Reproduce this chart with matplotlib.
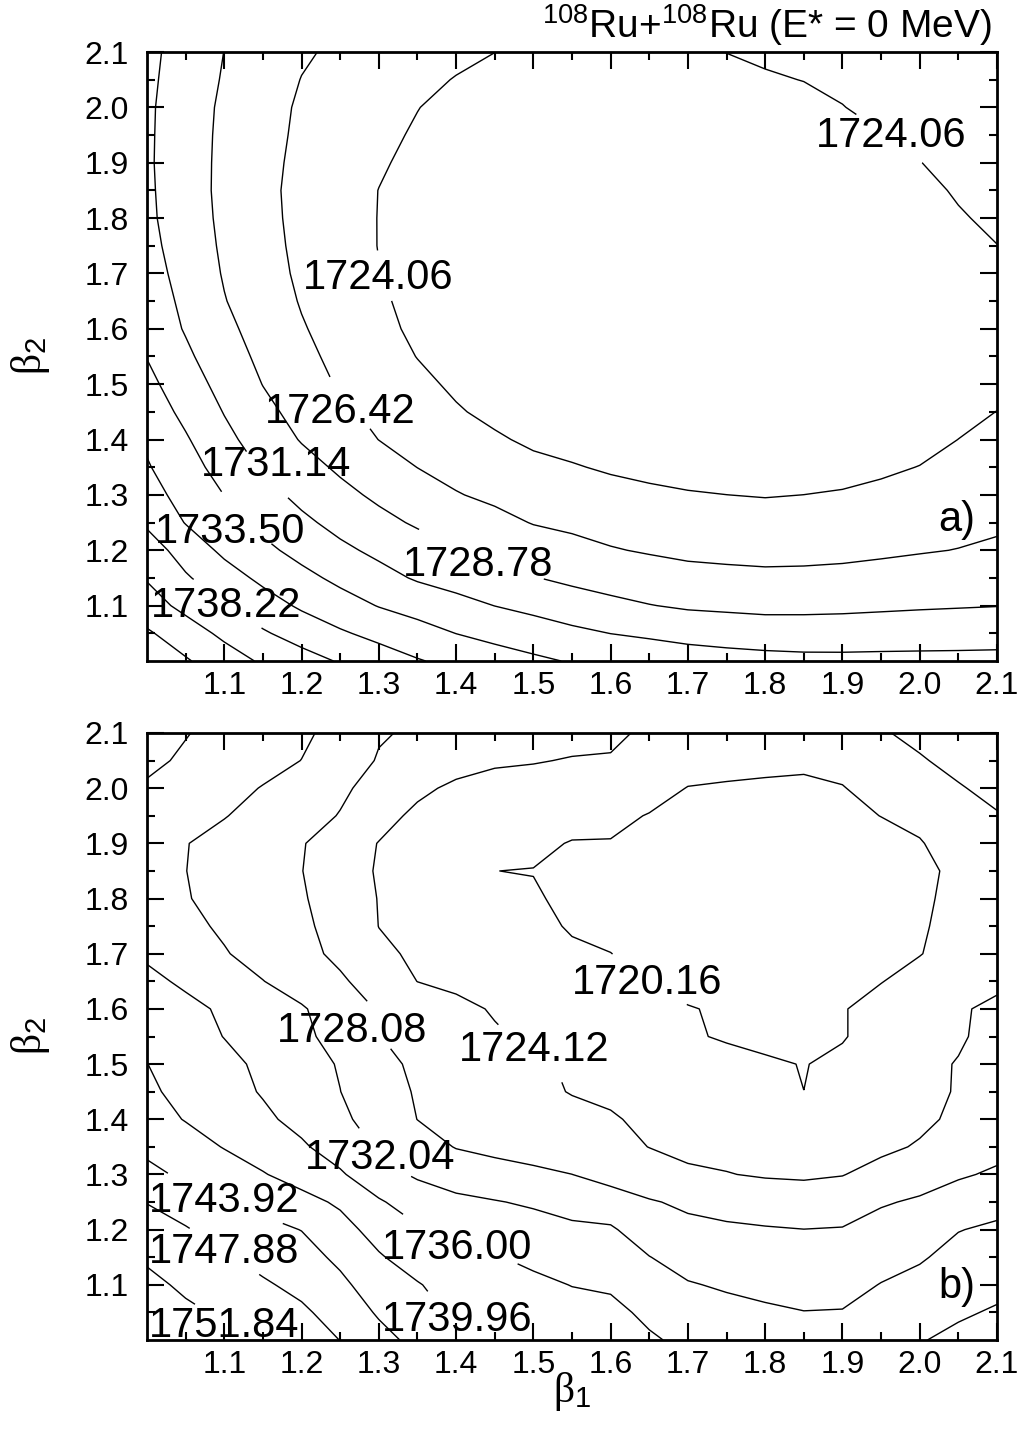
import numpy as np
import matplotlib.pyplot as plt
from matplotlib.ticker import FixedLocator, FormatStrFormatter

plt.rcParams['font.family'] = ['Liberation Sans', 'DejaVu Sans']
plt.rcParams['mathtext.fontset'] = 'custom'
plt.rcParams['mathtext.rm'] = 'Liberation Sans'
plt.rcParams['mathtext.it'] = 'Liberation Serif'
plt.rcParams['mathtext.bf'] = 'Liberation Sans:bold'

#%% deformation grid, step 0.05
beta = np.linspace(1.0, 2.1, 23)

# contour levels (MeV)
levels_a = [1724.06, 1726.42, 1728.78, 1731.14, 1733.50, 1735.86, 1738.22, 1740.58, 1742.94]
levels_b = [1720.16, 1724.12, 1728.08, 1732.04, 1736.00, 1739.96, 1743.92, 1747.88, 1751.84]

# energy in units of the contour step above the first level
# rows: beta_2 = 1.0 ... 2.1, columns: beta_1 = 1.0 ... 2.1
steps_a = [
    [8.74, 8.10, 7.46, 6.87, 6.38, 5.92, 5.49, 5.07, 4.74, 4.45, 4.18, 3.93, 3.77, 3.65, 3.50, 3.39, 3.31, 3.25, 3.24, 3.25, 3.25, 3.25, 3.26],
    [8.13, 7.47, 6.79, 6.11, 5.60, 5.12, 4.72, 4.36, 3.99, 3.71, 3.46, 3.21, 2.99, 2.84, 2.67, 2.57, 2.49, 2.47, 2.48, 2.52, 2.56, 2.59, 2.62],
    [7.42, 6.74, 6.05, 5.43, 4.86, 4.40, 3.96, 3.64, 3.30, 2.99, 2.75, 2.47, 2.23, 2.03, 1.88, 1.82, 1.76, 1.77, 1.80, 1.85, 1.90, 1.94, 1.98],
    [6.93, 6.11, 5.42, 4.79, 4.27, 3.78, 3.32, 2.90, 2.64, 2.38, 2.04, 1.80, 1.61, 1.45, 1.29, 1.23, 1.18, 1.19, 1.23, 1.31, 1.40, 1.48, 1.56],
    [6.48, 5.59, 4.80, 4.23, 3.70, 3.20, 2.79, 2.43, 2.06, 1.79, 1.49, 1.27, 1.06, 0.92, 0.81, 0.76, 0.73, 0.75, 0.79, 0.86, 0.94, 1.02, 1.14],
    [5.85, 4.96, 4.34, 3.75, 3.20, 2.71, 2.27, 1.88, 1.55, 1.26, 0.96, 0.82, 0.66, 0.54, 0.44, 0.38, 0.35, 0.37, 0.43, 0.52, 0.63, 0.76, 0.86],
    [5.36, 4.67, 3.99, 3.33, 2.75, 2.26, 1.82, 1.45, 1.05, 0.82, 0.59, 0.44, 0.28, 0.16, 0.06, 0.003, -0.04, 0.003, 0.07, 0.19, 0.33, 0.49, 0.64],
    [5.08, 4.38, 3.63, 2.89, 2.35, 1.85, 1.42, 0.99, 0.73, 0.46, 0.22, 0.06, -0.10, -0.22, -0.30, -0.35, -0.38, -0.35, -0.28, -0.14, 0.02, 0.25, 0.43],
    [4.85, 4.10, 3.25, 2.56, 1.94, 1.47, 0.99, 0.70, 0.39, 0.11, -0.15, -0.28, -0.40, -0.50, -0.55, -0.57, -0.58, -0.56, -0.50, -0.40, -0.27, 0.005, 0.22],
    [4.56, 3.76, 2.96, 2.25, 1.68, 1.18, 0.78, 0.44, 0.08, -0.20, -0.36, -0.45, -0.55, -0.60, -0.63, -0.65, -0.66, -0.64, -0.60, -0.52, -0.40, -0.22, 0.01],
    [4.26, 3.45, 2.69, 1.98, 1.42, 0.91, 0.56, 0.20, -0.14, -0.33, -0.46, -0.55, -0.61, -0.65, -0.67, -0.68, -0.67, -0.65, -0.61, -0.56, -0.49, -0.40, -0.20],
    [3.97, 3.17, 2.44, 1.79, 1.22, 0.77, 0.38, -0.02, -0.28, -0.45, -0.56, -0.64, -0.69, -0.72, -0.73, -0.73, -0.72, -0.69, -0.65, -0.59, -0.52, -0.44, -0.35],
    [3.63, 2.93, 2.23, 1.62, 1.07, 0.64, 0.23, -0.17, -0.38, -0.52, -0.62, -0.69, -0.73, -0.75, -0.76, -0.76, -0.74, -0.71, -0.66, -0.60, -0.52, -0.43, -0.32],
    [3.54, 2.79, 2.04, 1.48, 0.94, 0.52, 0.10, -0.20, -0.42, -0.56, -0.66, -0.72, -0.76, -0.78, -0.78, -0.78, -0.76, -0.72, -0.67, -0.60, -0.50, -0.40, -0.25],
    [3.40, 2.66, 1.93, 1.36, 0.85, 0.44, 0.02, -0.27, -0.47, -0.60, -0.69, -0.75, -0.79, -0.80, -0.80, -0.80, -0.78, -0.74, -0.68, -0.60, -0.47, -0.33, -0.18],
    [3.28, 2.55, 1.86, 1.29, 0.80, 0.39, -0.02, -0.30, -0.50, -0.63, -0.72, -0.78, -0.81, -0.82, -0.82, -0.81, -0.79, -0.74, -0.66, -0.55, -0.40, -0.22, -0.01],
    [3.19, 2.47, 1.81, 1.24, 0.77, 0.37, -0.02, -0.30, -0.50, -0.62, -0.72, -0.78, -0.81, -0.82, -0.82, -0.82, -0.79, -0.73, -0.63, -0.50, -0.32, -0.07, 0.15],
    [3.16, 2.43, 1.78, 1.21, 0.76, 0.38, -0.01, -0.28, -0.47, -0.60, -0.70, -0.76, -0.80, -0.81, -0.81, -0.80, -0.75, -0.67, -0.55, -0.40, -0.20, 0.08, 0.22],
    [3.13, 2.43, 1.79, 1.24, 0.80, 0.44, 0.09, -0.20, -0.42, -0.55, -0.65, -0.71, -0.75, -0.76, -0.76, -0.74, -0.68, -0.60, -0.45, -0.25, -0.01, 0.15, 0.30],
    [3.14, 2.44, 1.81, 1.28, 0.85, 0.53, 0.21, -0.10, -0.33, -0.47, -0.56, -0.63, -0.66, -0.68, -0.68, -0.66, -0.60, -0.50, -0.30, -0.03, 0.20, 0.38, 0.50],
    [3.15, 2.47, 1.84, 1.32, 0.89, 0.60, 0.31, 0.02, -0.25, -0.37, -0.45, -0.52, -0.55, -0.56, -0.55, -0.50, -0.45, -0.27, -0.02, 0.20, 0.38, 0.52, 0.65],
    [3.19, 2.55, 1.92, 1.44, 0.98, 0.73, 0.47, 0.22, -0.04, -0.22, -0.33, -0.40, -0.44, -0.43, -0.36, -0.22, -0.10, 0.02, 0.15, 0.30, 0.46, 0.58, 0.70],
    [3.23, 2.62, 1.99, 1.55, 1.11, 0.84, 0.63, 0.42, 0.21, 0.005, -0.18, -0.28, -0.33, -0.30, -0.17, 0.01, 0.16, 0.30, 0.42, 0.53, 0.62, 0.73, 0.85],
]

steps_b = [
    [8.90, 8.50, 8.05, 7.71, 7.36, 6.99, 6.32, 5.73, 5.21, 4.88, 4.69, 4.49, 4.29, 4.10, 3.82, 3.61, 3.49, 3.36, 3.39, 3.74, 3.95, 4.20, 4.40],
    [8.70, 8.20, 7.85, 7.57, 7.16, 6.61, 5.89, 5.29, 4.87, 4.68, 4.47, 4.28, 4.21, 3.83, 3.45, 3.26, 3.13, 3.02, 3.04, 3.39, 3.60, 3.89, 4.09],
    [8.28, 7.81, 7.47, 7.12, 6.75, 6.21, 5.50, 5.07, 4.55, 4.36, 4.18, 3.98, 3.89, 3.42, 3.06, 2.90, 2.77, 2.67, 2.71, 3.03, 3.26, 3.59, 3.78],
    [7.85, 7.44, 7.10, 6.70, 6.37, 5.80, 5.10, 4.52, 4.26, 4.05, 3.82, 3.58, 3.50, 3.02, 2.66, 2.52, 2.42, 2.34, 2.38, 2.67, 2.91, 3.28, 3.46],
    [7.41, 7.07, 6.62, 6.27, 5.98, 5.36, 4.62, 4.11, 3.82, 3.56, 3.37, 3.18, 3.10, 2.56, 2.27, 2.15, 2.07, 2.01, 2.05, 2.31, 2.51, 2.97, 3.15],
    [6.97, 6.57, 6.15, 5.73, 5.32, 4.85, 4.11, 3.51, 3.21, 3.05, 2.88, 2.64, 2.53, 2.09, 1.81, 1.64, 1.53, 1.45, 1.52, 1.92, 2.11, 2.41, 2.70],
    [6.23, 5.84, 5.45, 5.06, 4.60, 4.12, 3.34, 2.88, 2.56, 2.36, 2.21, 2.005, 1.60, 1.30, 1.10, 1.03, 0.92, 0.88, 0.97, 1.30, 1.62, 1.90, 2.12],
    [5.80, 5.37, 4.96, 4.55, 4.13, 3.54, 2.90, 2.40, 1.96, 1.77, 1.57, 1.38, 1.19, 0.99, 0.85, 0.76, 0.70, 0.68, 0.70, 0.82, 1.08, 1.45, 1.75],
    [5.35, 4.96, 4.57, 4.18, 3.72, 3.19, 2.60, 1.99, 1.80, 1.61, 1.42, 1.25, 1.10, 0.78, 0.64, 0.55, 0.48, 0.44, 0.48, 0.58, 0.82, 1.17, 1.50],
    [5.15, 4.75, 4.35, 3.93, 3.47, 3.01, 2.40, 1.92, 1.68, 1.44, 1.20, 0.96, 0.80, 0.62, 0.46, 0.32, 0.20, 0.002, 0.28, 0.50, 0.72, 1.07, 1.35],
    [5.01, 4.63, 4.23, 3.83, 3.39, 2.93, 2.25, 1.84, 1.60, 1.35, 1.11, 0.91, 0.76, 0.60, 0.44, 0.29, 0.13, -0.033, 0.20, 0.45, 0.75, 1.05, 1.35],
    [4.76, 4.37, 3.98, 3.59, 3.20, 2.67, 2.02, 1.70, 1.40, 1.09, 0.86, 0.67, 0.48, 0.29, 0.10, -0.09, -0.25, -0.28, -0.065, 0.40, 0.68, 0.88, 1.34],
    [4.63, 4.25, 3.86, 3.48, 3.09, 2.51, 1.93, 1.57, 1.21, 0.93, 0.75, 0.58, 0.40, 0.23, 0.05, -0.12, -0.30, -0.32, -0.057, 0.35, 0.65, 0.92, 1.15],
    [4.24, 3.84, 3.43, 3.02, 2.58, 2.13, 1.57, 0.99, 0.82, 0.65, 0.48, 0.31, 0.14, -0.03, -0.30, -0.42, -0.48, -0.48, -0.40, -0.03, 0.35, 0.62, 0.85],
    [3.85, 3.46, 3.06, 2.67, 2.27, 1.80, 1.16, 0.87, 0.70, 0.52, 0.35, 0.10, 0.01, -0.24, -0.42, -0.55, -0.60, -0.60, -0.55, -0.42, -0.035, 0.40, 0.62],
    [3.57, 3.22, 2.87, 2.52, 2.17, 1.67, 0.99, 0.79, 0.58, 0.375, 0.17, -0.06, -0.20, -0.40, -0.55, -0.65, -0.70, -0.70, -0.66, -0.55, -0.12, 0.35, 0.55],
    [3.37, 3.05, 2.73, 2.41, 2.09, 1.54, 0.97, 0.74, 0.52, 0.30, 0.08, -0.17, -0.35, -0.50, -0.65, -0.72, -0.76, -0.76, -0.72, -0.65, -0.23, 0.35, 0.55],
    [3.30, 3.01, 2.67, 2.35, 2.02, 1.44, 0.92, 0.62, 0.32, 0.003, -0.02, -0.15, -0.28, -0.45, -0.60, -0.68, -0.72, -0.72, -0.68, -0.60, -0.41, 0.38, 0.62],
    [3.36, 3.03, 2.71, 2.39, 2.06, 1.52, 0.97, 0.77, 0.57, 0.35, 0.16, -0.04, -0.03, -0.25, -0.45, -0.55, -0.60, -0.60, -0.55, -0.48, -0.07, 0.50, 0.75],
    [3.74, 3.42, 3.04, 2.68, 2.33, 1.96, 1.34, 0.80, 0.66, 0.52, 0.40, 0.29, 0.15, -0.03, -0.30, -0.38, -0.42, -0.42, -0.35, 0.02, 0.28, 0.70, 0.94],
    [3.90, 3.59, 3.28, 2.96, 2.55, 2.15, 1.69, 1.20, 0.82, 0.74, 0.65, 0.55, 0.45, 0.25, -0.02, -0.07, -0.10, -0.15, -0.04, 0.35, 0.60, 0.93, 1.25],
    [4.18, 3.88, 3.59, 3.29, 2.99, 2.44, 1.94, 1.66, 1.38, 1.10, 1.05, 0.95, 0.92, 0.55, 0.28, 0.22, 0.16, 0.15, 0.28, 0.65, 0.92, 1.25, 1.50],
    [4.34, 4.04, 3.74, 3.45, 3.15, 2.72, 2.07, 1.89, 1.74, 1.59, 1.43, 1.28, 1.20, 0.82, 0.60, 0.52, 0.46, 0.45, 0.60, 0.92, 1.22, 1.50, 1.75],
]

E_a = levels_a[0] + (levels_a[1] - levels_a[0]) * np.array(steps_a)
E_b = levels_b[0] + (levels_b[1] - levels_b[0]) * np.array(steps_b)

# label placement: level, beta_1, beta_2, length of the gap cut in the line (px)
labels_a = [
    (1724.06, 1.299, 1.692, 50),
    (1724.06, 1.963, 1.948, 79),
    (1726.42, 1.250, 1.450, 63),
    (1731.14, 1.167, 1.354, 60),
    (1733.50, 1.107, 1.233, 70),
    (1738.22, 1.102, 1.099, 81),
    (1728.78, 1.428, 1.173, 132),
]
labels_b = [
    (1720.16, 1.647, 1.647, 88),
    (1724.12, 1.501, 1.525, 86),
    (1728.08, 1.265, 1.560, 52),
    (1732.04, 1.302, 1.330, 69),
    (1736.00, 1.401, 1.167, 123),
    (1739.96, 1.401, 1.036, 80),
    (1743.92, 1.100, 1.252, 123),
    (1747.88, 1.100, 1.160, 81),
    (1751.84, 1.100, 1.025, 70),
]

LABEL_FS = 30
LABEL_W = 148  # width of a "1724.06" label at LABEL_FS, px


def draw_panel(ax, E, levels, labels):
    # one contour set per level so each label sits on its own line
    for lev in levels:
        cs = ax.contour(beta, beta, E, levels=[lev], colors='k', linewidths=1.0)
        for lab_lev, x, y, gap in labels:
            if abs(lab_lev - lev) > 1e-6:
                continue
            cs.clabel(manual=[(x, y)], inline=True,
                      inline_spacing=(gap - LABEL_W) / 2, fmt='%.2f', fontsize=LABEL_FS)
            t = cs.labelTexts[-1]
            t.set_rotation(0)
            t.set_position((x, y))

    ax.set_xlim(1.0, 2.1)
    ax.set_ylim(1.0, 2.1)
    major = [1.1, 1.2, 1.3, 1.4, 1.5, 1.6, 1.7, 1.8, 1.9, 2.0, 2.1]
    minor = [1.05, 1.15, 1.25, 1.35, 1.45, 1.55, 1.65, 1.75, 1.85, 1.95, 2.05]
    for axis in (ax.xaxis, ax.yaxis):
        axis.set_major_locator(FixedLocator(major))
        axis.set_minor_locator(FixedLocator(minor))
        axis.set_major_formatter(FormatStrFormatter('%.1f'))
    ax.tick_params(which='both', direction='in', top=True, right=True,
                   labelsize=23, width=1.5)
    ax.tick_params(which='major', length=12)
    ax.tick_params(which='minor', length=6)
    ax.tick_params(axis='y', pad=13)
    ax.tick_params(axis='x', pad=7)
    for sp in ax.spines.values():
        sp.set_linewidth(2.0)
    ax.set_ylabel(r'$\beta_\mathrm{2}$', fontsize=30)
    ax.yaxis.set_label_coords(-0.112, 0.5)


fig = plt.figure(figsize=(10.24, 14.33), dpi=100)
ax1 = fig.add_axes([147/1024, 1-661/1433, 850/1024, 609/1433])
ax2 = fig.add_axes([147/1024, 1-1340/1433, 850/1024, 607/1433])

draw_panel(ax1, E_a, levels_a, labels_a)
draw_panel(ax2, E_b, levels_b, labels_b)

ax1.text(0.974, 0.232, 'a)', transform=ax1.transAxes, ha='right', va='center', fontsize=30)
ax2.text(0.974, 0.087, 'b)', transform=ax2.transAxes, ha='right', va='center', fontsize=30)

ax2.set_xlabel(r'$\beta_\mathrm{1}$', fontsize=30)
ax2.xaxis.set_label_coords(0.5, -0.05)

fig.text(992/1024, 1-38/1433, r'$\mathrm{^{108}}$Ru+$\mathrm{^{108}}$Ru (E* = 0 MeV)',
         ha='right', va='baseline', fontsize=28)

fig.savefig('out.png', dpi=100)
